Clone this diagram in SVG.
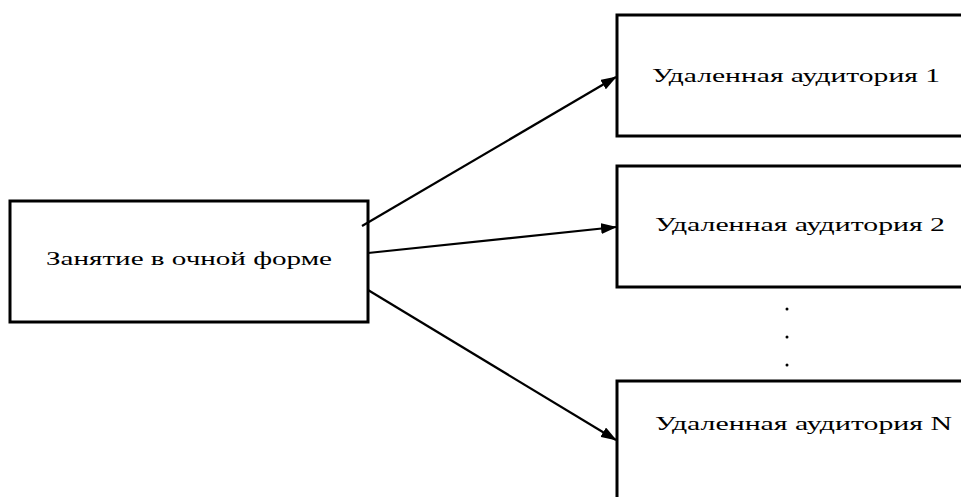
<svg xmlns="http://www.w3.org/2000/svg" width="961" height="497" viewBox="0 0 961 497">
<style>
.box{fill:#fff;stroke:#000;stroke-width:3}
.lbl{font-family:"Liberation Serif","Times New Roman",serif;font-size:19px;fill:#000}
.conn{stroke:#000;stroke-width:2.2;fill:none}
.dot{fill:#000}
</style>
<defs>
<marker id="ah" markerWidth="16" markerHeight="11" refX="15" refY="5.5" orient="auto" markerUnits="userSpaceOnUse">
<path d="M0,0 L16,5.5 L0,11 Z" fill="#000"/>
</marker>
</defs>
<rect width="961" height="497" fill="#fff"/>
<g id="source">
<rect class="box" x="10" y="201" width="358" height="121"/>
<text class="lbl" x="46" y="265" textLength="286" lengthAdjust="spacingAndGlyphs">Занятие в очной форме</text>
</g>
<g id="remote1">
<rect class="box" x="617" y="15" width="360" height="121"/>
<text class="lbl" x="652" y="82" textLength="288" lengthAdjust="spacingAndGlyphs">Удаленная аудитория 1</text>
</g>
<g id="remote2">
<rect class="box" x="617" y="166" width="360" height="121"/>
<text class="lbl" x="655" y="231" textLength="290" lengthAdjust="spacingAndGlyphs">Удаленная аудитория 2</text>
</g>
<g id="remoteN">
<rect class="box" x="617" y="381" width="360" height="140"/>
<text class="lbl" x="655" y="430" textLength="297" lengthAdjust="spacingAndGlyphs">Удаленная аудитория N</text>
</g>
<g id="ellipsis">
<circle class="dot" cx="787" cy="309" r="1.5"/>
<circle class="dot" cx="787" cy="337" r="1.5"/>
<circle class="dot" cx="787" cy="365" r="1.5"/>
</g>
<g id="connectors">
<line class="conn" x1="362" y1="226" x2="616" y2="77" marker-end="url(#ah)"/>
<line class="conn" x1="368" y1="253" x2="616" y2="227" marker-end="url(#ah)"/>
<line class="conn" x1="368" y1="290" x2="616" y2="440" marker-end="url(#ah)"/>
</g>
</svg>
